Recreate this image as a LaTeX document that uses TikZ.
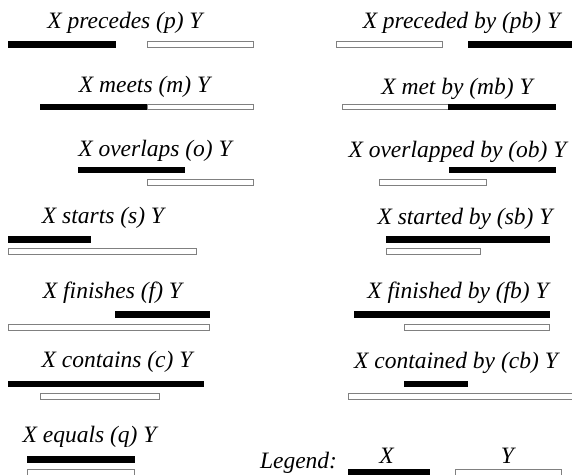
\documentclass[tikz,border=0pt]{standalone}
\usepackage{fontspec}
\setmainfont{Liberation Serif}
\begin{document}
\begin{tikzpicture}[x=1pt,y=-1pt,
  lbl/.style={anchor=base,inner sep=0pt,font=\fontsize{23.5}{26}\selectfont\itshape},
  xbar/.style={fill=black},
  ybar/.style={draw={rgb,255:red,128;green,128;blue,128},fill=white,line width=1pt}]
\useasboundingbox (0,0) rectangle (572,474);
% labels
\node[lbl] (p)  at (125,28)   {X precedes (p) Y};
\node[lbl] (m)  at (144.5,92) {X meets (m) Y};
\node[lbl] (o)  at (155,156)  {X overlaps (o) Y};
\node[lbl] (s)  at (103,223)  {X starts (s) Y};
\node[lbl] (f)  at (112.5,298){X finishes (f) Y};
\node[lbl] (c)  at (117,367)  {X contains (c) Y};
\node[lbl] (q)  at (89.5,442) {X equals (q) Y};
\node[lbl] (pb) at (461.5,28) {X preceded by (pb) Y};
\node[lbl] (mb) at (457,94)   {X met by (mb) Y};
\node[lbl] (ob) at (457.5,157){X overlapped by (ob) Y};
\node[lbl] (sb) at (465,224)  {X started by (sb) Y};
\node[lbl] (fb) at (458,298)  {X finished by (fb) Y};
\node[lbl] (cb) at (456,368)  {X contained by (cb) Y};
\node[lbl] (lg) at (298.5,468){Legend:};
\node[lbl] (lx) at (386.5,463){X};
\node[lbl] (ly) at (507.5,463){Y};
% row 1
\fill[xbar] (8,41) rectangle (116,47.5);
\draw[ybar] (147.5,41.5) rectangle (253.5,47);
\draw[ybar] (336.5,41.5) rectangle (442.5,47);
\fill[xbar] (468,41) rectangle (575,47.5);
% row 2
\fill[xbar] (40,103.5) rectangle (147,110);
\draw[ybar] (147,104) rectangle (253.5,109.5);
\draw[ybar] (342.5,104) rectangle (448,109.5);
\fill[xbar] (448,103.5) rectangle (556,110);
% row 3
\fill[xbar] (78,166.5) rectangle (185,173);
\draw[ybar] (147.5,179.5) rectangle (253.5,185);
\fill[xbar] (449,166.5) rectangle (556,173);
\draw[ybar] (379.5,179.5) rectangle (486.5,185);
% row 4
\fill[xbar] (8,236) rectangle (91,242.5);
\draw[ybar] (8.5,248.5) rectangle (196.5,254);
\fill[xbar] (386,236) rectangle (550,242.5);
\draw[ybar] (386.5,248.5) rectangle (480.5,254);
% row 5
\fill[xbar] (115,311) rectangle (210,317.5);
\draw[ybar] (8.5,324.5) rectangle (209.5,330);
\fill[xbar] (354,311) rectangle (550,317.5);
\draw[ybar] (404.5,324.5) rectangle (549.5,330);
% row 6
\fill[xbar] (8,380.5) rectangle (204,387);
\draw[ybar] (40.5,393.5) rectangle (159.5,399);
\fill[xbar] (404,380.5) rectangle (468,387);
\draw[ybar] (348.5,393.5) rectangle (580,399);
% row 7
\fill[xbar] (27,456) rectangle (135,462.5);
\draw[ybar] (27.5,469.5) rectangle (134.5,480);
\fill[xbar] (348,469) rectangle (430,480);
\draw[ybar] (455.5,469.5) rectangle (561.5,480);
\end{tikzpicture}
\end{document}
